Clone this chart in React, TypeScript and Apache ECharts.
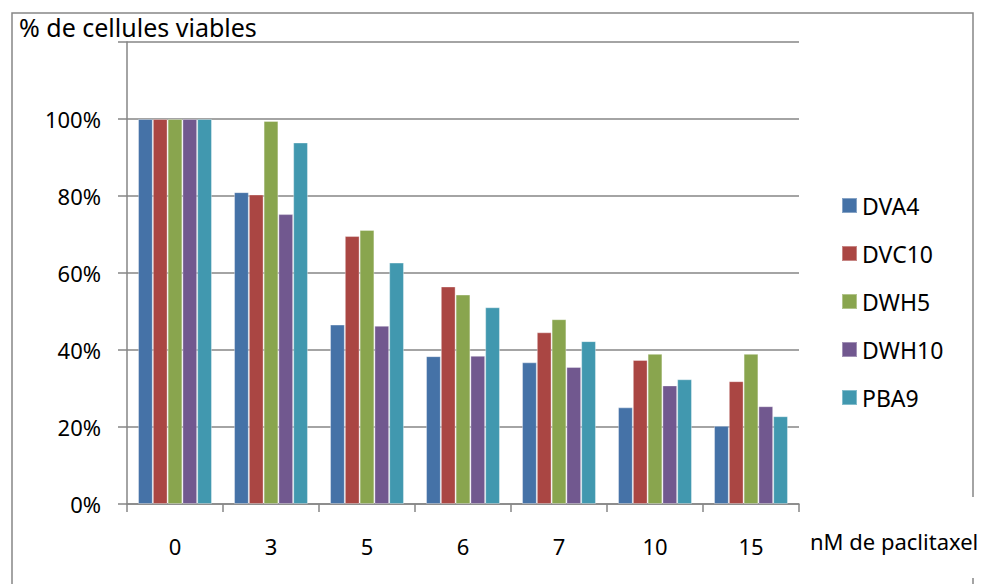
import React, { useEffect, useRef } from "react";
import * as echarts from "echarts";

const categories = ["0", "3", "5", "6", "7", "10", "15"];
const seriesNames = ["DVA4", "DVC10", "DWH5", "DWH10", "PBA9"];
const dva4 = [1.0, 0.81, 0.466, 0.384, 0.368, 0.251, 0.203];
const dvc10 = [1.0, 0.804, 0.696, 0.565, 0.446, 0.374, 0.319];
const dwh5 = [1.0, 0.995, 0.712, 0.544, 0.48, 0.39, 0.39];
const dwh10 = [1.0, 0.753, 0.463, 0.385, 0.356, 0.308, 0.254];
const pba9 = [1.0, 0.939, 0.627, 0.511, 0.423, 0.324, 0.228];
const colors = ["#4572A7", "#AA4643", "#89A54E", "#71588F", "#4198AF"];
const yTicks = [0, 0.2, 0.4, 0.6, 0.8, 1.0, 1.2];

const FONT = "Noto Sans";

export default function App() {
  const ref = useRef<HTMLDivElement>(null);
  useEffect(() => {
    if (!ref.current) return;
    const chart = echarts.init(ref.current, null, { renderer: "svg" });
    const values = [dva4, dvc10, dwh5, dwh10, pba9];
    chart.setOption({
      animation: false,
      backgroundColor: "#ffffff",
      textStyle: { fontFamily: FONT },
      grid: { left: 127, top: 42, right: 208, bottom: 80, containLabel: false },
      legend: {
        orient: "vertical",
        left: 836,
        top: 189,
        itemWidth: 15,
        itemHeight: 15,
        itemGap: 25,
        icon: "rect",
        textStyle: { fontFamily: FONT, fontSize: 23, color: "#000" },
        data: seriesNames,
      },
      xAxis: {
        type: "category",
        data: categories,
        axisLine: { lineStyle: { color: "#868686", width: 1.5 } },
        axisTick: { show: true, length: 8, lineStyle: { color: "#868686", width: 1.5 } },
        axisLabel: { color: "#000", fontSize: 22, fontFamily: FONT, margin: 31 },
      },
      yAxis: {
        type: "value",
        min: yTicks[0],
        max: yTicks[yTicks.length - 1],
        interval: 0.2,
        axisLine: { show: true, lineStyle: { color: "#868686", width: 1.5 } },
        axisTick: { show: true, length: 9, lineStyle: { color: "#868686", width: 1.5 } },
        splitLine: { show: true, lineStyle: { color: "#868686", width: 1.5 } },
        axisLabel: {
          color: "#000",
          fontSize: 22,
          fontFamily: FONT,
          margin: 26,
          formatter: (v: number) => (v >= 1.19 ? "" : Math.round(v * 100) + "%"),
        },
      },
      series: seriesNames.map((name, i) => ({
        name,
        type: "bar",
        data: values[i],
        barGap: "0%",
        barCategoryGap: "23%",
        itemStyle: {
          color: colors[i],
          borderColor: "rgba(255,255,255,0.35)",
          borderWidth: 1,
        },
      })),
      graphic: [
        {
          type: "polyline",
          shape: { points: [[12, 584], [12, 13], [973, 13], [973, 497]] },
          style: { stroke: "#868686", lineWidth: 1.5, fill: "none" },
          silent: true,
        },
        {
          type: "line",
          shape: { x1: 973, y1: 578, x2: 973, y2: 584 },
          style: { stroke: "#868686", lineWidth: 1.5 },
          silent: true,
        },
        {
          type: "text",
          left: 19,
          top: 14,
          style: { text: "% de cellules viables", fontSize: 25, fontFamily: FONT, fill: "#000" },
        },
        {
          type: "text",
          left: 810,
          top: 530,
          style: { text: "nM de paclitaxel", fontSize: 22, fontFamily: FONT, fill: "#000" },
        },
      ],
    });
    return () => chart.dispose();
  }, []);
  return (
    <div
      ref={ref}
      style={{ position: "fixed", left: 0, top: 0, width: 1007, height: 584 }}
    />
  );
}
